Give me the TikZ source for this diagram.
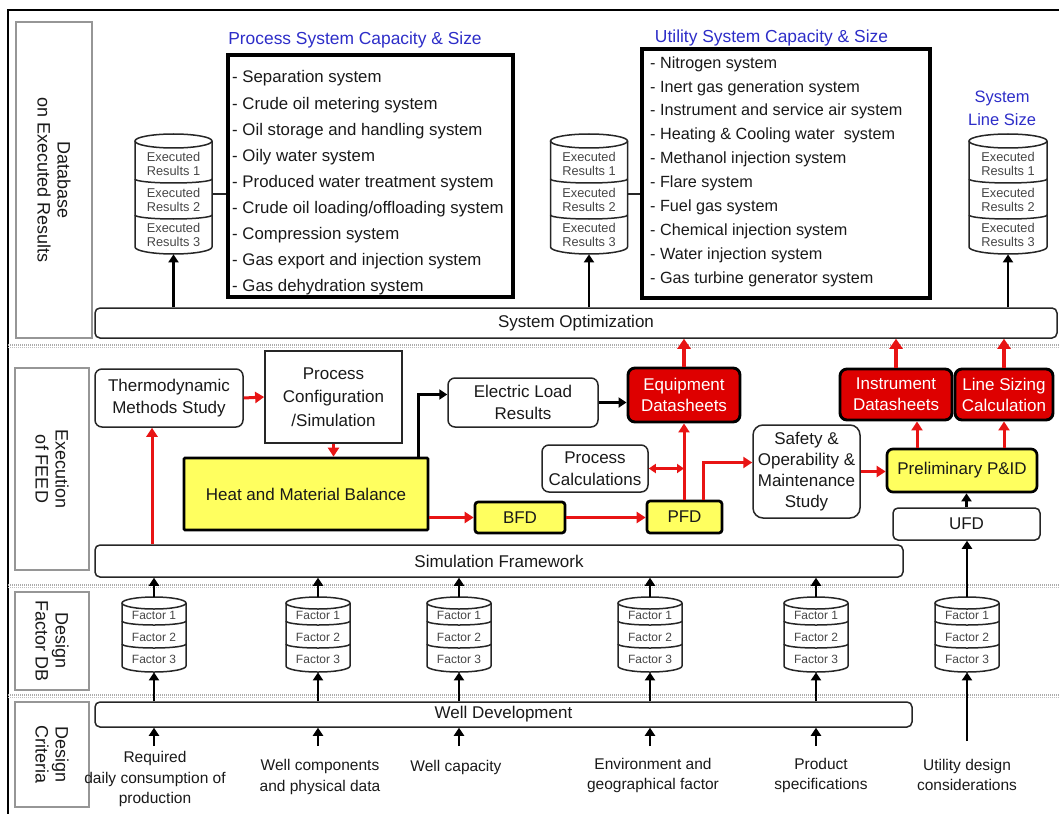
\documentclass[tikz,border=0pt]{standalone}
\usepackage{fontspec}
\setmainfont{Liberation Sans}
\usetikzlibrary{arrows.meta,calc}

\definecolor{titleblue}{RGB}{45,45,200}
\definecolor{boxyellow}{RGB}{255,255,95}
\definecolor{sheetred}{RGB}{222,0,0}
\definecolor{arrowred}{RGB}{232,20,20}
\definecolor{framegray}{RGB}{150,150,150}
\definecolor{dbgray}{RGB}{70,70,70}
\definecolor{txt}{RGB}{25,25,25}

% database stack: #1 name, #2 centre x, #3 top, #4 bottom, #5 half width,
% #6 end-cap radius, #7 divider levels, #8 divider radius
\newcommand\dbstack[8]{%
  \node[inner sep=0pt, minimum width=2*#5pt, minimum height=(#4-#3)*1pt, anchor=north] (#1) at (#2,#3) {};
  \draw[dbline] (#2,#3+#6) ellipse [x radius=#5pt, y radius=#6pt];
  \draw[dbline] (#2-#5,#3+#6) -- (#2-#5,#4-#6) arc[start angle=180, end angle=360, x radius=#5pt, y radius=#6pt] -- (#2+#5,#3+#6);
  \foreach \lv in {#7}{\draw[dbline] (#2-#5,\lv) arc[start angle=180, end angle=360, x radius=#5pt, y radius=#8pt];}
}

\tikzset{
  lane/.style={draw=framegray, line width=1.3pt, inner sep=0pt},
  lanetext/.style={rotate=-90, align=center, inner sep=0pt, text=txt, font=\fontsize{18pt}{20pt}\selectfont},
  band/.style={draw=black!85, rounded corners=5pt, line width=1.5pt, inner sep=0pt, text=txt, font=\fontsize{17pt}{20pt}\selectfont},
  rbox/.style={draw=black!85, rounded corners=7pt, line width=1.5pt, align=center, inner sep=0pt, text=txt, font=\fontsize{17pt}{22pt}\selectfont},
  sqbox/.style={draw=black!85, line width=1.7pt, align=center, inner sep=0pt, text=txt, font=\fontsize{17pt}{23.5pt}\selectfont},
  ybox/.style={draw=black, fill=boxyellow, line width=2.7pt, rounded corners=3pt, align=center, inner sep=0pt, text=txt, font=\fontsize{17pt}{22pt}\selectfont},
  sheet/.style={draw=black, fill=sheetred, text=white, line width=2.9pt, rounded corners=7pt, align=center, inner sep=0pt, font=\fontsize{17pt}{21pt}\selectfont},
  listbox/.style={draw=black, line width=3.2pt, inner sep=0pt},
  listtext/.style={align=left, inner sep=0pt, text=txt, anchor=west},
  heading/.style={text=titleblue, inner sep=0pt, align=center, font=\fontsize{17.4pt}{23pt}\selectfont},
  dbline/.style={draw=black!85, line width=1.5pt},
  dbtext/.style={text=dbgray, align=center, inner sep=0pt, font=\fontsize{12.8pt}{14pt}\selectfont},
  factext/.style={text=dbgray, align=center, inner sep=0pt, font=\fontsize{12pt}{14pt}\selectfont},
  crit/.style={align=center, inner sep=0pt, text=txt, font=\fontsize{15.5pt}{20.5pt}\selectfont},
  arr/.style={draw=black, line width=2.8pt, -{Triangle[length=8pt,width=10pt]}},
  rarr/.style={draw=arrowred, line width=3pt, -{Triangle[length=9pt,width=11pt]}},
  rarrbig/.style={draw=arrowred, line width=3.2pt, -{Triangle[length=10pt,width=13pt]}},
  sepline/.style={draw=gray!65, line width=1.1pt, dash pattern=on 1pt off 1pt},
}

\begin{document}
\begin{tikzpicture}[x=1pt,y=-1pt]
\useasboundingbox (0,0) rectangle (1059,813);

% outer frame
\draw[line width=1.6pt] (8,10) rectangle (1075,830);

% lane separators
\foreach \sy in {345,585,695}{
  \draw[sepline] (8,\sy) -- (1059,\sy);
  \draw[sepline, draw=gray!50] (8,\sy+2.5) -- (1059,\sy+2.5);
}

% lane headers
\node[lane, minimum width=76pt, minimum height=316pt] (l1) at (54,180) {};
\node[lanetext] (l1t) at (l1.center) {Database\\on Executed Results};
\node[lane, minimum width=74pt, minimum height=202pt] (l2) at (52,469) {};
\node[lanetext] (l2t) at (l2.center) {Execution\\of FEED};
\node[lane, minimum width=74pt, minimum height=98pt] (l3) at (52,641) {};
\node[lanetext] (l3t) at (l3.center) {Design\\Factor DB};
\node[lane, minimum width=74pt, minimum height=105pt] (l4) at (52,754.5) {};
\node[lanetext] (l4t) at (l4.center) {Design\\Criteria};

% ---------------- database on executed results ----------------
\node[heading] (h1) at (355,40) {Process System Capacity \& Size};
\node[heading] (h2) at (771.5,38) {Utility System Capacity \& Size};
\node[heading, font=\fontsize{16.5pt}{23pt}\selectfont] (h3) at (1002,108) {System\\Line Size};

\node[listbox, minimum width=285pt, minimum height=242pt] (pl) at (370.5,176) {};
\node[listtext, font=\fontsize{16.8pt}{26.1pt}\selectfont] (plt) at (232,183) {%
- Separation system\\
- Crude oil metering system\\
- Oil storage and handling system\\
- Oily water system\\
- Produced water treatment system\\
- Crude oil loading/offloading system\\
- Compression system\\
- Gas export and injection system\\
- Gas dehydration system};

\node[listbox, minimum width=288pt, minimum height=249pt] (ul) at (786,173.5) {};
\node[listtext, font=\fontsize{16.2pt}{23.9pt}\selectfont] (ult) at (650,171.5) {%
- Nitrogen system\\
- Inert gas generation system\\
- Instrument and service air system\\
- Heating \& Cooling water\ \ system\\
- Methanol injection system\\
- Flare system\\
- Fuel gas system\\
- Chemical injection system\\
- Water injection system\\
- Gas turbine generator system};

\dbstack{x1}{173.5}{134}{254}{38.5}{7}{179,215}{4}
\node[dbtext] (x1a) at (173.5,164) {Executed\\Results 1};
\node[dbtext] (x1b) at (173.5,200) {Executed\\Results 2};
\node[dbtext] (x1c) at (173.5,235) {Executed\\Results 3};

\dbstack{x2}{589}{134}{254}{38.5}{7}{179,215}{4}
\node[dbtext] (x2a) at (589,164) {Executed\\Results 1};
\node[dbtext] (x2b) at (589,200) {Executed\\Results 2};
\node[dbtext] (x2c) at (589,235) {Executed\\Results 3};

\dbstack{x3}{1008}{134}{254}{39}{7}{179,215}{4}
\node[dbtext] (x3a) at (1008,164) {Executed\\Results 1};
\node[dbtext] (x3b) at (1008,200) {Executed\\Results 2};
\node[dbtext] (x3c) at (1008,235) {Executed\\Results 3};

\draw[dbline] (x1.east) -- (x1.east -| pl.west);
\draw[dbline] (x2.east) -- (x2.east -| ul.west);

\node[band, minimum width=962pt, minimum height=30pt] (sysopt) at (576,323) {System Optimization};

\draw[arr] (x1.south |- sysopt.north) -- (x1.south);
\draw[arr] (x2.south |- sysopt.north) -- (x2.south);
\draw[arr] (x3.south |- sysopt.north) -- (x3.south);

% ---------------- execution of FEED ----------------
\node[rbox, minimum width=148pt, minimum height=58pt] (thermo) at (169,398) {Thermodynamic\\Methods Study};
\node[sqbox, minimum width=137pt, minimum height=92pt] (pcs) at (333.5,397) {Process\\Configuration\\/Simulation};
\node[ybox, minimum width=244pt, minimum height=72pt, rounded corners=1pt] (hmb) at (306,494) {Heat and Material Balance};
\node[rbox, minimum width=150pt, minimum height=49pt] (el) at (523,402.5) {Electric Load\\Results};
\node[ybox, minimum width=90pt, minimum height=31pt] (bfd) at (520,517.5) {BFD};
\node[ybox, minimum width=75pt, minimum height=32pt] (pfd) at (684.5,517) {PFD};
\node[sheet, minimum width=112pt, minimum height=54pt] (eq) at (684,395) {Equipment\\Datasheets};
\node[rbox, minimum width=106pt, minimum height=47pt] (pc) at (595,468.5) {Process\\Calculations};
\node[rbox, minimum width=107pt, minimum height=93pt, rounded corners=10pt, font=\fontsize{17pt}{21pt}\selectfont] (saf) at (806.5,471.5) {Safety \&\\Operability \&\\Maintenance\\Study};
\node[ybox, minimum width=150pt, minimum height=43pt, rounded corners=6pt] (pid) at (962,470.5) {Preliminary P\&ID};
\node[rbox, minimum width=147pt, minimum height=32pt, rounded corners=5pt] (ufd) at (966.5,524) {UFD};
\node[sheet, minimum width=112pt, minimum height=51pt] (ins) at (896,394.5) {Instrument\\Datasheets};
\node[sheet, minimum width=98pt, minimum height=51pt] (ls) at (1004,394.5) {Line Sizing\\Calculation};
\node[band, minimum width=808pt, minimum height=32pt] (sim) at (499,561) {Simulation Framework};

\draw[rarr] ([xshift=-17pt]thermo.south |- sim.north) -- ([xshift=-17pt]thermo.south);
\draw[rarr] (thermo.east) -- (pcs.west);
\draw[rarr] (pcs.south) -- (pcs.south |- hmb.north);
\draw[arr] ([xshift=-11pt]hmb.north east) |- ([yshift=8pt]el.west);
\draw[arr] (el.east) -- (el.east -| eq.west);
\draw[rarr] (hmb.east |- bfd.west) -- (bfd.west);
\draw[rarr] (bfd.east) -- (bfd.east -| pfd.west);
\draw[rarr] (pfd.north -| eq.south) -- (eq.south);
\draw[draw=arrowred, line width=2.6pt, {Triangle[length=7pt,width=9pt]}-{Triangle[length=7pt,width=9pt]}] (pc.east) -- (pc.east -| eq.south);
\draw[rarr] ([xshift=19pt]pfd.north) |- ([yshift=9pt]saf.west);
\draw[rarr] (saf.east) -- (saf.east -| pid.west);
\draw[rarr] ([xshift=-45pt]pid.north) -- ([xshift=-45pt]pid.north |- ins.south);
\draw[rarr] (ls.south |- pid.north) -- (ls.south);
\draw[arr] (ufd.north) -- (ufd.north |- pid.south);

\draw[rarrbig] (eq.north) -- (eq.north |- sysopt.south);
\draw[rarrbig] (ins.north) -- (ins.north |- sysopt.south);
\draw[rarrbig] (ls.north) -- (ls.north |- sysopt.south);

% ---------------- design factor DB ----------------
\foreach \nm/\cx in {f1/154,f2/318,f3/459,f4/650,f5/816,f6/967}{
  \dbstack{\nm}{\cx}{597}{672}{32}{6}{621,644}{4}
  \node[factext] (\nm a) at (\cx,615) {Factor 1};
  \node[factext] (\nm b) at (\cx,637) {Factor 2};
  \node[factext] (\nm c) at (\cx,659.5) {Factor 3};
}

% ---------------- design criteria ----------------
\node[band, minimum width=817pt, minimum height=25pt] (wd) at (503.5,714.5) {Well Development};

\node[crit] (c1) at (155,779) {Required\\daily consumption of\\production};
\node[crit] (c2) at (320,777) {Well components\\and physical data};
\node[crit] (c3) at (456,767) {Well capacity};
\node[crit] (c4) at (653,775.5) {Environment and\\geographical factor};
\node[crit] (c5) at (821,775.5) {Product\\specifications};
\node[crit] (c6) at (967,775) {Utility design\\considerations};

\coordinate (critrow) at (0,746);
\coordinate (utilrow) at (0,741);

\foreach \nm in {f1,f2,f3,f4,f5}{
  \draw[arr] (\nm.south |- critrow) -- (\nm.south |- wd.south);
  \draw[arr] (\nm.south |- wd.north) -- (\nm.south);
  \draw[arr] (\nm.north) -- (\nm.north |- sim.south);
}
\draw[arr] (f6.south |- utilrow) -- (f6.south);
\draw[arr] (f6.north) -- (f6.north |- ufd.south);

\end{tikzpicture}
\end{document}
